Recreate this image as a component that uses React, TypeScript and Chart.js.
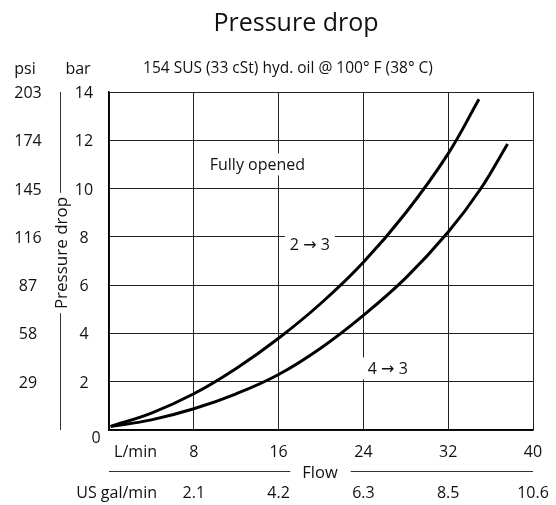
import React, { useEffect, useRef } from "react";
import { Chart, registerables } from "chart.js";

Chart.register(...registerables);

// Data (flow in L/min, pressure drop in bar)
const flow23 = [0.15, 4, 8, 12, 16, 20, 24, 28, 32, 34.9];
const dp23 = [0.15, 0.7, 1.5, 2.55, 3.8, 5.25, 6.95, 9.0, 11.45, 13.7];
const flow43 = [0.15, 4, 8, 12, 16, 20, 24, 28, 32, 35, 37.6];
const dp43 = [0.15, 0.42, 0.88, 1.5, 2.3, 3.4, 4.75, 6.3, 8.2, 9.95, 11.85];

// Tick labels
const flowTicks = [8, 16, 24, 32, 40];
const galTicks = ["2.1", "4.2", "6.3", "8.5", "10.6"];
const barTicks = [2, 4, 6, 8, 10, 12, 14];
const psiTicks = ["29", "58", "87", "116", "145", "174", "203"];

const TITLE = "Pressure drop";
const SUBTITLE = "154 SUS (33 cSt) hyd. oil @ 100° F (38° C)";
const Y_TITLE = "Pressure drop";
const X_TITLE = "Flow";

// Curve labels [text, x (L/min), y (bar)]
const curveLabels: [string, number, number][] = [
  ["Fully opened", 14.0, 11.0],
  ["2 → 3", 18.95, 7.7],
  ["4 → 3", 26.3, 2.55],
];

const FONT = '"Open Sans", "DejaVu Sans", sans-serif';

const textPlugin = {
  id: "texts",
  afterDatasetsDraw(chart: any) {
    const ctx = chart.ctx as CanvasRenderingContext2D;
    const xs = chart.scales.x;
    const ys = chart.scales.y;
    ctx.save();
    ctx.fillStyle = "#111";
    ctx.textBaseline = "alphabetic";
    ctx.font = `16px ${FONT}`;
    ctx.textAlign = "center";
    curveLabels.forEach(([t, x, y]) => {
      const px = xs.getPixelForValue(x);
      const py = ys.getPixelForValue(y);
      const w = ctx.measureText(t).width;
      ctx.fillStyle = "#fff";
      ctx.fillRect(px - w / 2 - 5, py - 11, w + 10, 22);
      ctx.fillStyle = "#111";
      ctx.fillText(t, px, py + 6);
    });
    ctx.restore();
  },
  afterDraw(chart: any) {
    const ctx = chart.ctx as CanvasRenderingContext2D;
    const xs = chart.scales.x;
    const ys = chart.scales.y;
    const area = chart.chartArea;
    ctx.save();
    ctx.fillStyle = "#111";
    ctx.textBaseline = "alphabetic";

    // title
    ctx.font = `25px ${FONT}`;
    ctx.textAlign = "center";
    ctx.fillText(TITLE, 296, 31);

    // subtitle
    ctx.font = `15.5px ${FONT}`;
    ctx.fillText(SUBTITLE, 288, 73);

    // unit headers
    ctx.font = `16px ${FONT}`;
    ctx.fillText("psi", 25, 74);
    ctx.fillText("bar", 78, 74);

    // y tick labels
    barTicks.forEach((b, i) => {
      const py = ys.getPixelForValue(b);
      ctx.fillText(String(b), 84, py + 6);
      ctx.fillText(psiTicks[i], 28, py + 6);
    });
    ctx.fillText("0", 96, 443);

    // x tick labels
    flowTicks.forEach((f, i) => {
      const px = xs.getPixelForValue(f);
      ctx.fillText(String(f), px, 457);
      ctx.fillText(galTicks[i], px, 498);
    });
    ctx.textAlign = "right";
    ctx.fillText("L/min", 157, 457);
    ctx.fillText("US gal/min", 157, 498);

    // x title with lines
    ctx.textAlign = "center";
    const fx = 320;
    ctx.font = `16.5px ${FONT}`;
    ctx.fillText(X_TITLE, fx, 478);
    const fw = ctx.measureText(X_TITLE).width;
    ctx.strokeStyle = "#333";
    ctx.lineWidth = 1;
    ctx.beginPath();
    ctx.moveTo(area.left, 471.5);
    ctx.lineTo(fx - fw / 2 - 12, 471.5);
    ctx.moveTo(fx + fw / 2 + 13, 471.5);
    ctx.lineTo(area.right, 471.5);
    ctx.stroke();

    // y title rotated with lines
    const cy = 253;
    const lx = 60.5;
    ctx.font = `17px ${FONT}`;
    const yw = ctx.measureText(Y_TITLE).width;
    ctx.beginPath();
    ctx.moveTo(lx, area.top);
    ctx.lineTo(lx, cy - yw / 2 - 4);
    ctx.moveTo(lx, cy + yw / 2 + 4);
    ctx.lineTo(lx, area.bottom);
    ctx.stroke();
    ctx.translate(lx + 6, cy);
    ctx.rotate(-Math.PI / 2);
    ctx.fillText(Y_TITLE, 0, 0);
    ctx.restore();
  },
};

export default function App() {
  const ref = useRef<HTMLCanvasElement | null>(null);
  useEffect(() => {
    if (!ref.current) return;
    const chart = new Chart(ref.current, {
      type: "scatter",
      data: {
        datasets: [
          {
            label: "2 → 3",
            data: flow23.map((x, i) => ({ x, y: dp23[i] })),
            showLine: true,
            borderColor: "#000",
            borderWidth: 3,
            pointRadius: 0,
            tension: 0.4,
            fill: false,
          },
          {
            label: "4 → 3",
            data: flow43.map((x, i) => ({ x, y: dp43[i] })),
            showLine: true,
            borderColor: "#000",
            borderWidth: 3,
            pointRadius: 0,
            tension: 0.4,
            fill: false,
          },
        ],
      },
      options: {
        responsive: false,
        animation: false,
        devicePixelRatio: 1,
        layout: { padding: { left: 109, top: 92, right: 23, bottom: 75 } },
        plugins: {
          legend: { display: false },
          tooltip: { enabled: false },
          title: { display: false },
        },
        scales: {
          x: {
            type: "linear",
            min: 0,
            max: 40,
            ticks: { display: false, stepSize: 8 },
            grid: { color: "#222", lineWidth: 1, drawTicks: false },
            border: { display: true, color: "#000", width: 1.5 },
          },
          y: {
            type: "linear",
            min: 0,
            max: 14,
            ticks: { display: false, stepSize: 2 },
            grid: { color: "#222", lineWidth: 1, drawTicks: false },
            border: { display: true, color: "#000", width: 1.5 },
          },
        },
      },
      plugins: [textPlugin],
    } as any);
    return () => chart.destroy();
  }, []);
  return (
    <div style={{ position: "absolute", left: 0, top: 0, width: 556, height: 505, background: "#fff" }}>
      <canvas ref={ref} width={556} height={505} style={{ width: 556, height: 505, display: "block" }} />
    </div>
  );
}
